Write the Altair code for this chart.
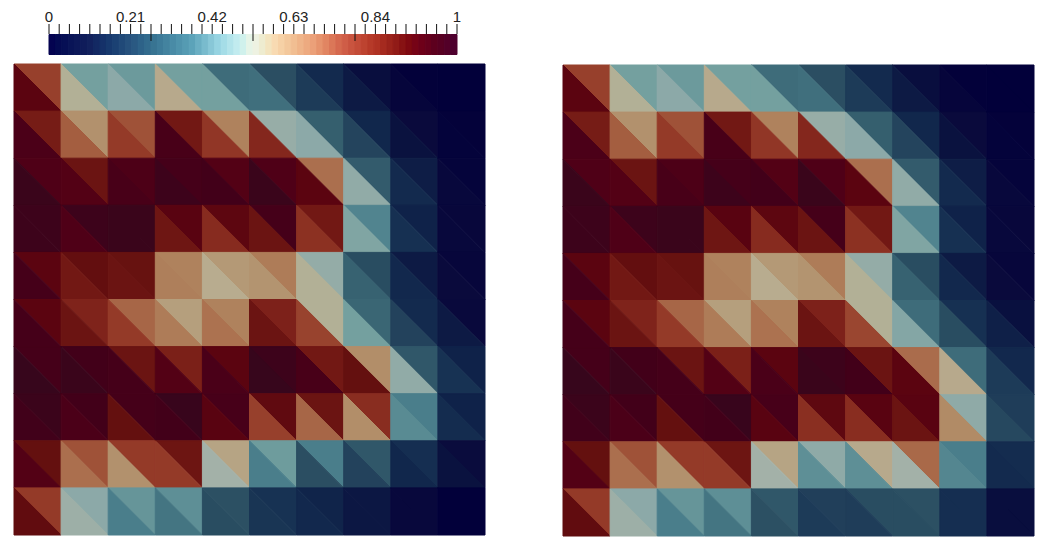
import altair as alt
import pandas as pd

# values of the upper-right and lower-left triangle in every cell (rows top to bottom)
upper_a = [
 [.71,.40,.385,.40,.29,.245,.15,.06,.005,0],
 [.80,.575,.68,.81,.60,.45,.27,.14,.05,.01],
 [.91,.83,.915,.94,.90,.91,.63,.265,.11,.02],
 [.97,.97,.98,.885,.875,.94,.81,.335,.125,.035],
 [.88,.855,.84,.60,.56,.61,.445,.24,.10,.03],
 [.88,.78,.645,.55,.60,.785,.51,.28,.15,.045],
 [.94,.95,.83,.79,.88,.97,.81,.58,.26,.125],
 [.975,.95,.94,.985,.935,.865,.83,.755,.32,.125],
 [.85,.68,.72,.825,.54,.39,.32,.26,.16,.055],
 [.72,.43,.375,.36,.25,.17,.13,.09,.04,0],
]
lower_a = [
 [.88,.51,.43,.53,.40,.295,.19,.10,.025,0],
 [.92,.66,.72,.93,.73,.77,.43,.215,.07,.015],
 [.98,.90,.93,.97,.95,.98,.88,.44,.15,.04],
 [.97,.91,.98,.82,.76,.83,.745,.415,.165,.04],
 [.94,.81,.83,.605,.525,.57,.51,.275,.145,.05],
 [.94,.83,.72,.61,.625,.83,.705,.40,.21,.10],
 [.99,.98,.94,.90,.925,.99,.93,.85,.44,.17],
 [.955,.92,.85,.95,.885,.71,.645,.58,.35,.155],
 [.90,.63,.575,.72,.47,.32,.245,.21,.14,.07],
 [.86,.46,.32,.305,.24,.175,.145,.09,.04,0],
]
upper_b = [
 [.71,.40,.385,.40,.29,.245,.15,.06,.005,0],
 [.80,.575,.68,.81,.60,.45,.27,.14,.05,.01],
 [.91,.83,.915,.94,.90,.91,.63,.265,.11,.02],
 [.97,.97,.98,.885,.875,.94,.81,.335,.125,.035],
 [.88,.855,.84,.60,.56,.61,.445,.24,.10,.03],
 [.88,.78,.645,.55,.60,.785,.51,.29,.165,.065],
 [.94,.95,.83,.79,.88,.97,.83,.635,.29,.145],
 [.975,.95,.94,.985,.935,.87,.885,.885,.435,.195],
 [.85,.68,.72,.825,.54,.435,.53,.64,.32,.155],
 [.72,.43,.375,.36,.26,.20,.24,.25,.16,.06],
]
lower_b = [
 [.88,.51,.43,.53,.40,.295,.19,.10,.025,0],
 [.92,.66,.72,.93,.73,.77,.43,.215,.07,.015],
 [.98,.90,.93,.97,.95,.98,.88,.44,.15,.04],
 [.97,.91,.98,.82,.76,.83,.745,.415,.165,.04],
 [.94,.81,.83,.605,.525,.57,.51,.275,.145,.05],
 [.94,.83,.72,.61,.625,.83,.70,.42,.24,.12],
 [.99,.98,.94,.90,.925,.98,.95,.88,.53,.19],
 [.955,.92,.85,.95,.885,.75,.755,.83,.585,.225],
 [.90,.63,.575,.72,.47,.36,.36,.47,.34,.15],
 [.86,.46,.32,.305,.25,.19,.195,.24,.16,.06],
]

# shaded colour ramp of the meshes
mesh_domain = [0,.05,.10,.15,.20,.25,.28,.32,.36,.40,.43,.47,.52,.57,.63,.68,.72,.77,.81,.85,.88,.92,.95,.99]
mesh_range = ["#02003a","#0a0a3c","#0d1a44","#132a4e","#213f5a","#2c5063","#3a6674","#4a7e8b",
              "#5e8f96","#74a09f","#8ca9a8","#a3b1a8","#b9ae93","#b39470","#ab6f4e","#9f5238",
              "#943a28","#84271d","#721814","#64100f","#5b0410","#4b0018","#420019","#37061c"]

# colour bar
bar_domain = [0,.10,.20,.25,.35,.42,.47,.50,.55,.65,.72,.80,.88,.95,1]
bar_range = ["#04004f","#12205c","#28537e","#35708f","#5ba2b8","#9cd8e5","#c9eff2","#f0f5ea",
             "#f9ddb5","#eb9f78","#d2604a","#b23424","#7f0a10","#5a001e","#4b0030"]
bar_bands = 64
tick_count = 40
tick_major_every = 10
bar_labels = ["0","0.21","0.42","0.63","0.84","1"]


def triangles(upper, lower):
    rows = []
    for r in range(10):
        for c in range(10):
            tid = f"{r}-{c}"
            rows.append(dict(t=tid+"u", v=upper[r][c], x=c,   y=r, y2=r))
            rows.append(dict(t=tid+"u", v=upper[r][c], x=c+1, y=r, y2=r+1))
            rows.append(dict(t=tid+"l", v=lower[r][c], x=c,   y=r, y2=r+1))
            rows.append(dict(t=tid+"l", v=lower[r][c], x=c+1, y=r+1, y2=r+1))
    return pd.DataFrame(rows)


def mesh(upper, lower, xrange, yrange):
    cs = alt.Scale(domain=mesh_domain, range=mesh_range, clamp=True)
    return alt.Chart(triangles(upper, lower)).mark_area(orient="vertical", strokeWidth=1, opacity=1).encode(
        x=alt.X("x:Q", axis=None, scale=alt.Scale(domain=[0, 10], range=xrange, nice=False, zero=False)),
        y=alt.Y("y:Q", axis=None, scale=alt.Scale(domain=[0, 10], range=yrange, nice=False, zero=False)),
        y2="y2:Q",
        detail="t:N",
        color=alt.Color("v:Q", scale=cs, legend=None),
        stroke=alt.Stroke("v:Q", scale=cs, legend=None),
    )


bar_x = alt.Scale(domain=[0, 1], range=[41, 449], nice=False, zero=False)

bands = pd.DataFrame([dict(a=i/bar_bands, b=(i+1)/bar_bands, v=(i+.5)/bar_bands) for i in range(bar_bands)])
bar_cs = alt.Scale(domain=bar_domain, range=bar_range)
bar = alt.Chart(bands).mark_rect(strokeWidth=1, opacity=1).encode(
    x=alt.X("a:Q", axis=None, scale=bar_x), x2="b:Q",
    y=alt.value(26.5), y2=alt.value(46.5),
    color=alt.Color("v:Q", scale=bar_cs, legend=None),
    stroke=alt.Stroke("v:Q", scale=bar_cs, legend=None),
)

ticks = pd.DataFrame([dict(p=i/tick_count, e=33 if i % tick_major_every == 0 and 0 < i < tick_count else 26)
                      for i in range(tick_count+1)])
tick_rules = alt.Chart(ticks).mark_rule(color="#111111", strokeWidth=1).encode(
    x=alt.X("p:Q", axis=None, scale=bar_x),
    y=alt.Y("e:Q", axis=None, scale=alt.Scale(domain=[0, 532], range=[0, 532], nice=False, zero=False)),
    y2=alt.value(16),
)

labels = pd.DataFrame([dict(p=i/(len(bar_labels)-1), s=s) for i, s in enumerate(bar_labels)])
label_text = alt.Chart(labels).mark_text(font="Liberation Sans", fontSize=15, color="#222222",
                                         baseline="alphabetic", align="center").encode(
    x=alt.X("p:Q", axis=None, scale=bar_x),
    y=alt.value(14),
    text="s:N",
)

chart = alt.layer(
    mesh(upper_a, lower_a, [6, 477], [56, 527]),
    mesh(upper_b, lower_b, [555, 1026], [57, 528]),
    bar, tick_rules, label_text,
).resolve_scale(x="independent", y="independent", color="independent", stroke="independent").properties(
    width=1044, height=532, padding=0, autosize=alt.AutoSizeParams(type="none"),
).configure_view(strokeWidth=0)

chart.save("out.html", embed_options={"renderer": "svg", "actions": False})
